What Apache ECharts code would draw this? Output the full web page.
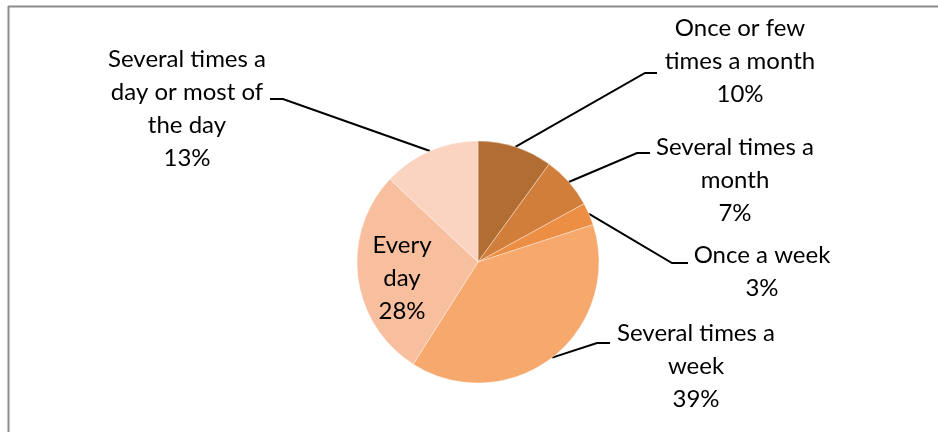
<!DOCTYPE html>
<html>
<head>
<meta charset="utf-8">
<script src="https://cdn.jsdelivr.net/npm/echarts@6/dist/echarts.min.js"></script>
<style>
html,body{margin:0;padding:0;background:#fff;}
#c{width:938px;height:432px;}
</style>
</head>
<body>
<div id="c"></div>
<script>
// Data
var categories = [
  "Once or few\ntimes a month",
  "Several times a\nmonth",
  "Once a week",
  "Several times a\nweek",
  "Every\nday",
  "Several times a\nday or most of\nthe day"
];
var values = [10, 7, 3, 39, 28, 13];

// Styling (not data)
var colors = ["#B26D32", "#D27E3B", "#EC8F45", "#F6A86D", "#F8BF9E", "#FAD4C1"];
// label block placement: [centerX, topY, elbowX, elbowY, endX]
var labelPlace = [
  [740, 12, 645, 73, 657],
  [735, 131, 637, 153, 650],
  [762, 239, 672, 263, 688],
  [696, 317, 597, 343, 610],
  [402, 229],
  [187, 43, 283, 99, 270]
];

var chart = echarts.init(document.getElementById('c'), null, {renderer: 'canvas'});
var font = "Lato, 'Open Sans', sans-serif";

var data = categories.map(function (c, i) {
  var d = {name: c, value: values[i], itemStyle: {color: colors[i]}};
  if (i === 4) {
    d.label = {position: 'inside'};
    d.labelLine = {show: false};
  }
  return d;
});

chart.setOption({
  animation: false,
  graphic: [
    {type: 'line', shape: {x1: 8.5, y1: 6, x2: 8.5, y2: 432}, style: {stroke: '#8c8c8c', lineWidth: 2}},
    {type: 'line', shape: {x1: 8, y1: 6.5, x2: 938, y2: 6.5}, style: {stroke: '#8c8c8c', lineWidth: 2}}
  ],
  series: [{
    type: 'pie',
    center: [478, 262],
    radius: [0, 121],
    startAngle: 90,
    clockwise: true,
    avoidLabelOverlap: false,
    data: data,
    itemStyle: {borderColor: 'rgba(255,255,255,0.6)', borderWidth: 0.6},
    label: {
      show: true,
      formatter: function (p) { return p.name + '\n' + p.value + '%'; },
      fontFamily: font,
      fontSize: 24,
      lineHeight: 33,
      color: '#000',
      align: 'center'
    },
    labelLine: {show: true, lineStyle: {color: '#000', width: 2}, length: 20, length2: 12},
    emphasis: {disabled: true},
    labelLayout: function (params) {
      var lp = labelPlace[params.dataIndex];
      if (!lp) return {};
      if (lp.length < 3) {
        return {x: lp[0], y: lp[1], align: 'center', verticalAlign: 'top'};
      }
      var start = params.labelLinePoints ? params.labelLinePoints[0] : [lp[2], lp[3]];
      return {
        x: lp[0],
        y: lp[1],
        align: 'center',
        verticalAlign: 'top',
        labelLinePoints: [start, [lp[2], lp[3]], [lp[4], lp[3]]]
      };
    }
  }]
});
</script>
</body>
</html>
